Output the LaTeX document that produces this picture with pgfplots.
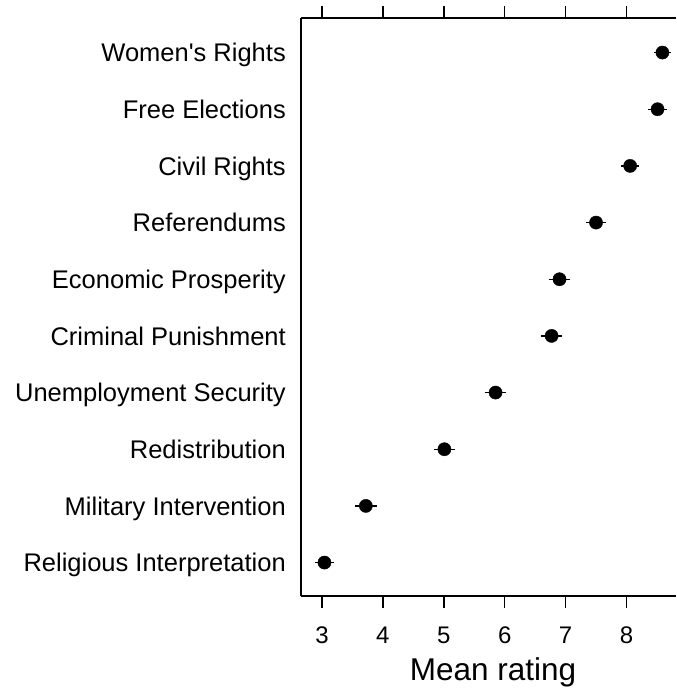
\documentclass[border=0pt]{standalone}
\usepackage{fontspec}
\setmainfont{Liberation Sans}[Ligatures=TeXOff]
\usepackage{pgfplots}
\pgfplotsset{compat=1.18}
\usetikzlibrary{calc}
\begin{document}
\begin{tikzpicture}
\begin{axis}[
  name=ax,
  scale only axis,
  width=375pt, height=578pt,
  xmin=2.655, xmax=8.813,
  ymin=0.41, ymax=10.61,
  axis x line=box, axis y line=left,
  axis line style={-, line width=1.5pt, black},
  xtick={3,4,5,6,7,8},
  tick align=outside,
  major tick length=12pt,
  x tick style={line width=1.5pt, black},
  ytick={1,2,3,4,5,6,7,8,9,10},
  yticklabels={Religious Interpretation, Military Intervention, Redistribution, Unemployment Security, Criminal Punishment, Economic Prosperity, Referendums, Civil Rights, Free Elections, {Women's Rights}},
  y tick style={draw=none},
  yticklabel style={font=\fontsize{25.5}{30}\selectfont, inner sep=0pt, anchor=east, xshift=-3pt, text height=18.4pt, text depth=0pt},
  xticklabel style={font=\fontsize{24}{28}\selectfont, inner sep=0pt, anchor=north, yshift=-19pt},
  /pgf/number format/assume math mode=true,
  xlabel={Mean rating},
  xlabel style={font=\fontsize{31.5}{36}\selectfont, at={(axis description cs:0.512,0)}, anchor=base, yshift=-84pt, inner sep=0pt},
  clip=false,
]
\addplot[only marks, mark=*, mark size=6.6pt, mark options={fill=black, draw=black},
  error bars/.cd, x dir=both, x explicit, error mark=none,
  error bar style={line width=1.4pt, black}]
  table[x=x, y=y, x error=e] {
x    y  e
8.59 10 0.145
8.51 9  0.15
8.06 8  0.15
7.50 7  0.16
6.90 6  0.165
6.77 5  0.17
5.85 4  0.17
5.01 3  0.17
3.72 2  0.18
3.04 1  0.15
};
\end{axis}
\pgfresetboundingbox
\path[use as bounding box] ($(ax.south west)+(-301pt,-96pt)$) rectangle ($(ax.north east)+(0pt,18pt)$);
\end{tikzpicture}
\end{document}
